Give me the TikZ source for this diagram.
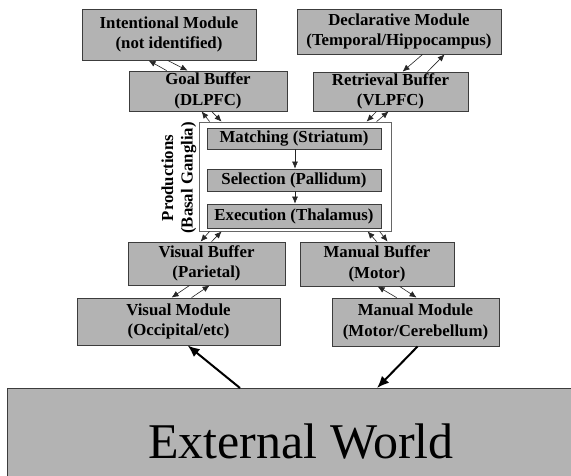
\documentclass[tikz,border=0pt]{standalone}
\usepackage{fontspec}
\setmainfont{Liberation Serif}
\usetikzlibrary{arrows.meta}
\definecolor{boxgray}{HTML}{B3B3B3}
\definecolor{edgegray}{HTML}{3C3C3C}
\tikzset{
  modbox/.style={draw=edgegray, fill=boxgray, line width=0.8pt, inner sep=0pt,
    align=center, font=\bfseries\fontsize{16.8}{20.5}\selectfont},
  prodbox/.style={draw=gray!80!black, fill=white, line width=0.8pt, inner sep=0pt},
  thinarr/.style={draw=black!85, line width=0.6pt, -{Latex[length=7pt,width=6pt]}},
  thickarr/.style={draw=black, line width=2pt, -{Latex[length=12pt,width=10pt]}},
}
\begin{document}
\begin{tikzpicture}[x=1pt, y=-1pt]
\useasboundingbox (0,0) rectangle (571,475);
\clip (0,0) rectangle (571,475);
\fill[white] (0,0) rectangle (571,475);
% top row
\node[modbox, minimum width=174pt, minimum height=51pt] (intent) at (169,34.5) {Intentional Module\\(not identified)};
\node[modbox, minimum width=204pt, minimum height=45pt] (decl) at (399,31.5) {Declarative Module\\(Temporal/Hippocampus)};
% buffers
\node[modbox, minimum width=158pt, minimum height=40pt] (goal) at (208,91) {Goal Buffer\\(DLPFC)};
\node[modbox, minimum width=155pt, minimum height=39pt] (retr) at (390.5,91.5) {Retrieval Buffer\\(VLPFC)};
% productions
\node[prodbox, minimum width=192pt, minimum height=109pt] (prod) at (295,176.5) {};
\node[modbox, minimum width=174pt, minimum height=21pt] (match) at (294,138.5) {Matching (Striatum)};
\node[modbox, minimum width=174pt, minimum height=22pt] (sel) at (294,180) {Selection (Pallidum)};
\node[modbox, minimum width=174pt, minimum height=24pt] (exec) at (294,216) {Execution (Thalamus)};
\node[rotate=90, align=center, inner sep=0pt, font=\bfseries\fontsize{16.8}{19.5}\selectfont] (plabel) at (179,178) {Productions\\(Basal Ganglia)};
% lower buffers
\node[modbox, minimum width=157pt, minimum height=43pt] (vbuf) at (206.5,263.5) {Visual Buffer\\(Parietal)};
\node[modbox, minimum width=154pt, minimum height=44pt] (mbuf) at (377,264) {Manual Buffer\\(Motor)};
% modules
\node[modbox, minimum width=203pt, minimum height=47pt] (vmod) at (178.5,321.5) {Visual Module\\(Occipital/etc)};
\node[modbox, minimum width=167pt, minimum height=48pt] (mmod) at (415.5,322) {Manual Module\\(Motor/Cerebellum)};
% external world
\node[draw=edgegray, fill=boxgray, line width=0.8pt, inner sep=0pt, minimum width=580pt, minimum height=110pt, anchor=north west] (ext) at (7,388) {};
\node[anchor=base, inner sep=0pt, font=\fontsize{50}{56}\selectfont] (exttext) at (301,458) {External World};
% arrows intent <-> goal
\draw[thinarr] ([xshift=38pt]goal.north west) -- ([xshift=67pt]intent.south west);
\draw[thinarr] ([xshift=86pt]intent.south west) -- ([xshift=59pt]goal.north west);
% decl <-> retr
\draw[thinarr] ([xshift=126pt]decl.south west) -- ([xshift=90pt]retr.north west);
\draw[thinarr] ([xshift=115pt]retr.north west) -- ([xshift=148pt]decl.south west);
% goal <-> prod
\draw[thinarr] ([xshift=11pt]prod.north west) -- ([xshift=73pt]goal.south west);
\draw[thinarr] ([xshift=83pt]goal.south west) -- ([xshift=23pt]prod.north west);
% retr <-> prod
\draw[thinarr] ([xshift=64pt]retr.south west) -- ([xshift=168pt]prod.north west);
\draw[thinarr] ([xshift=178pt]prod.north west) -- ([xshift=76pt]retr.south west);
% prod <-> vbuf
\draw[thinarr] ([xshift=11pt]prod.south west) -- ([xshift=73pt]vbuf.north west);
\draw[thinarr] ([xshift=84pt]vbuf.north west) -- ([xshift=23pt]prod.south west);
% prod <-> mbuf
\draw[thinarr] ([xshift=77pt]mbuf.north west) -- ([xshift=169pt]prod.south west);
\draw[thinarr] ([xshift=181pt]prod.south west) -- ([xshift=88pt]mbuf.north west);
% vbuf <-> vmod
\draw[thinarr] ([xshift=62pt]vbuf.south west) -- ([xshift=95pt]vmod.north west);
\draw[thinarr] ([xshift=115pt]vmod.north west) -- ([xshift=82pt]vbuf.south west);
% mbuf <-> mmod
\draw[thinarr] ([xshift=65pt]mmod.north west) -- ([xshift=78pt]mbuf.south west);
\draw[thinarr] ([xshift=100pt]mbuf.south west) -- ([xshift=85pt]mmod.north west);
% production stages
\draw[thinarr] ([xshift=1pt]match.south) -- ([xshift=1pt]sel.north);
\draw[thinarr] ([xshift=1pt]sel.south) -- ([xshift=1pt]exec.north);
% external world
\draw[thickarr] ([xshift=233pt]ext.north west) -- ([xshift=111pt]vmod.south west);
\draw[thickarr] ([xshift=86pt]mmod.south west) -- ([xshift=370pt]ext.north west);
\end{tikzpicture}
\end{document}
